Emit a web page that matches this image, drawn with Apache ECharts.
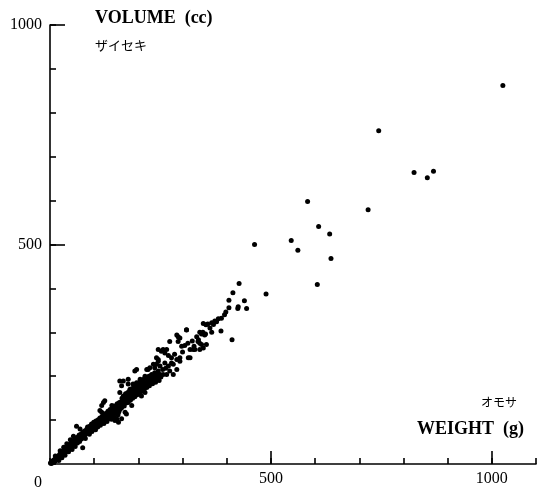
<!DOCTYPE html>
<html><head><meta charset="utf-8">
<script src="https://cdn.jsdelivr.net/npm/echarts@6/dist/echarts.min.js"></script>
<style>html,body{margin:0;padding:0;background:#fff}#c{width:537px;height:491px}</style>
</head><body><div id="c"></div>
<script>
// Weight (g), Volume (cc) pairs
const lowBand = [
 [1,2],[3,1],[4,5],[6,3],[7,8],[9,5],[10,10],[11,6],[13,12],[14,9],[15,16],[17,11],[18,18],[19,13],
 [21,15],[22,22],[24,17],[25,25],[26,19],[28,27],[29,21],[30,30],[32,24],[33,33],[35,27],[36,36],
 [37,29],[39,38],[40,31],[41,40],[43,34],[44,44],[45,36],[47,46],[48,38],[49,49],[51,41],[52,52],
 [54,44],[55,55],[56,46],[58,57],[59,48],[60,60],[20,8],[27,14],[34,20],[42,28],[50,33],[57,40],
 [12,18],[23,30],[31,38],[38,46],[46,55],[53,63],[60,86],[68,80],[74,37],[90,73]
];
const midBand = [
 [61,58],[62,48],[64,62],[65,55],[66,66],[67,51],[69,60],[70,68],[71,57],[73,64],[74,72],[75,61],
 [76,69],[78,75],[79,66],[80,58],[81,73],[83,79],[84,70],[85,84],[86,74],[88,80],[89,68],[90,86],
 [91,77],[93,83],[94,91],[95,74],[96,88],[98,80],[99,95],[100,85],[101,92],[103,78],[104,98],
 [105,88],[106,94],[108,84],[109,101],[110,91],[111,97],[113,105],[114,88],[115,100],[116,93],
 [118,108],[119,96],[120,104],[121,113],[122,92],[124,107],[125,100],[126,115],[127,105],[129,97],
 [130,111],[131,120],[132,103],[134,116],[135,108],[136,124],[137,112],[139,102],[140,120],
 [141,128],[142,110],[144,118],[145,132],[146,106],[147,124],[149,115],[150,130],[151,121],
 [152,137],[154,112],[155,127],[156,119],[157,140],[159,125],[160,133],
 [121,140],[117,133],[140,133],[143,122],[151,103],[155,95],[124,144],[113,122],[117,118]
];
const upperBand = [
 [161,142],[162,128],[163,150],[165,136],[166,155],[167,141],[168,132],[170,148],[171,160],
 [172,139],[173,152],[175,145],[176,163],[177,140],[178,156],[180,150],[181,168],[182,145],
 [183,160],[185,155],[186,172],[187,150],[188,165],[190,158],[191,176],[192,153],[194,168],
 [195,162],[196,180],[197,158],[199,172],[200,166],[201,185],[202,160],[204,177],[205,170],
 [206,189],[207,165],[209,181],[210,175],[212,193],[213,170],[215,185],[216,178],[218,196],
 [219,174],[221,189],[222,182],[224,200],[225,178],[227,192],[229,186],[230,204],[232,183],
 [234,197],[236,190],[237,208],[239,186],[241,200],[243,194],[245,212],[247,190],[249,204],[251,198],
 [158,189],[162,178],[158,163],[166,189],[177,193],[177,182],[170,118],[173,114],[162,103],
 [147,99],[185,133],[200,163],[207,155],[215,163],[192,212],[196,215],[219,215],[226,219],
 [241,227],[245,238],[222,215],[237,219],[215,200],[226,200],[234,202],[241,206],[204,193],
 [196,185],[188,182],[181,170],[188,163],[204,174],[196,163]
];
const outerBand = [
 [256,261],[245,261],[264,261],[268,247],[275,242],[241,242],[245,234],[249,223],[234,227],
 [260,230],[268,223],[275,230],[271,212],[264,204],[294,234],[271,279],[287,294],[294,287],
 [290,279],[298,268],[309,305],[324,261],[317,261],[328,261],[339,261],[332,290],[336,283],
 [339,275],[339,300],[346,300],[347,320],[353,317],[357,319],[343,296],[352,296],[366,300],
 [387,303],[377,324],[388,332],[373,326],[381,331],[412,283],[405,373],[405,356],[425,354],
 [426,358],[445,354],[440,372],[414,390],[428,411],[309,306],[290,290],[350,294],[347,264],
 [343,272],[354,272],[335,279],[317,242],[313,242],[287,238],[294,242],[279,227],[279,204],
 [287,215],[256,204],[252,257],[260,253],[255,215],[262,218],[282,250],[300,255],[305,270],
 [322,280],[312,275],[326,268],[362,310],[370,318],[395,340],[398,346],[366,322]
];
const sparse = [
 [463,500],[489,387],[546,509],[561,487],[583,598],[605,409],[608,541],[633,524],[636,468],
 [720,579],[744,759],[824,664],[854,652],[868,667],[1025,862]
];
const xLabelValues = [0, 500, 1000];
const yLabelValues = [500, 1000];
const xMajorTicks = [500, 1000];
const yMajorTicks = [500, 1000];

const allPoints = lowBand.concat(midBand, upperBand, outerBand, sparse);
const serif = 'Liberation Serif';
const cjk = 'Noto Sans CJK JP';
const chart = echarts.init(document.getElementById('c'), null, {renderer:'canvas'});
const tickStyle = {color:'#000', width:1.6};
const noLine = {show:false};
chart.setOption({
  animation:false,
  backgroundColor:'#fff',
  title:[
    {text:'VOLUME  (cc)', left:95, top:9, padding:0, textStyle:{fontFamily:serif, fontSize:18, fontWeight:'bold', color:'#000'}},
    {text:'ザイセキ', left:95, top:39, padding:0, textStyle:{fontFamily:cjk, fontSize:13, fontWeight:'normal', color:'#000'}},
    {text:'オモサ', left:481, top:396, padding:0, textStyle:{fontFamily:cjk, fontSize:12, fontWeight:'normal', color:'#000'}},
    {text:'WEIGHT  (g)', left:417, top:420, padding:0, textStyle:{fontFamily:serif, fontSize:18, fontWeight:'bold', color:'#000'}}
  ],
  grid:{left:50, right:1, top:25, bottom:22, containLabel:false},
  xAxis:[
    {type:'value', min:0, max:1100, position:'bottom',
     axisLine:{show:true, lineStyle:{color:'#000', width:1.6}}, splitLine:{show:false},
     axisTick:{show:false},
     axisLabel:{show:true, customValues:xLabelValues, margin:7, color:'#000', fontFamily:serif, fontSize:16,
       formatter:function(v){ return v===0 ? '{o|0}' : String(v); },
       rich:{o:{fontFamily:serif, fontSize:16, color:'#000', padding:[4,24,0,0]}}}},
    {type:'value', min:0, max:1100, interval:100, position:'bottom', axisLine:noLine, splitLine:{show:false},
     axisTick:{show:true, inside:true, length:6, lineStyle:tickStyle}, axisLabel:{show:false}},
    {type:'value', min:0, max:1100, position:'bottom', axisLine:noLine, splitLine:{show:false},
     axisTick:{show:true, inside:true, length:13, customValues:xMajorTicks, lineStyle:tickStyle},
     axisLabel:{show:false}}
  ],
  yAxis:[
    {type:'value', min:0, max:1000, position:'left',
     axisLine:{show:true, lineStyle:{color:'#000', width:1.6}}, splitLine:{show:false},
     axisTick:{show:false},
     axisLabel:{show:true, customValues:yLabelValues, margin:8, color:'#000', fontFamily:serif, fontSize:16,
       formatter:function(v){ return String(v); }}},
    {type:'value', min:0, max:1000, interval:100, position:'left', offset:0, axisLine:noLine, splitLine:{show:false},
     axisTick:{show:true, inside:true, length:6, lineStyle:tickStyle}, axisLabel:{show:false}},
    {type:'value', min:0, max:1000, position:'left', offset:0, axisLine:noLine, splitLine:{show:false},
     axisTick:{show:true, inside:true, length:15, customValues:yMajorTicks, lineStyle:tickStyle},
     axisLabel:{show:false}}
  ],
  series:[{
    type:'scatter', xAxisIndex:0, yAxisIndex:0, data:allPoints,
    symbol:'circle', symbolSize:5, itemStyle:{color:'#000', opacity:1}, silent:true
  }]
});
</script></body></html>
